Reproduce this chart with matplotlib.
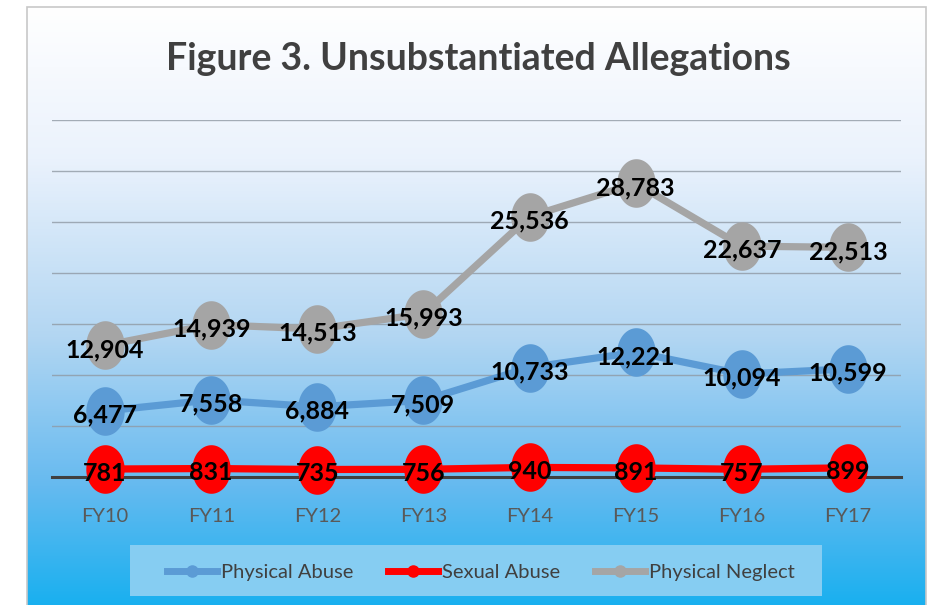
import numpy as np
import matplotlib
matplotlib.use('Agg')
from matplotlib import pyplot as plt
from matplotlib.path import Path
from matplotlib.patches import Rectangle
from matplotlib.colors import LinearSegmentedColormap
from matplotlib.lines import Line2D

plt.rcParams['font.family'] = ['Lato', 'DejaVu Sans']

years = ['FY10', 'FY11', 'FY12', 'FY13', 'FY14', 'FY15', 'FY16', 'FY17']
physical_abuse = [6477, 7558, 6884, 7509, 10733, 12221, 10094, 10599]
sexual_abuse = [781, 831, 735, 756, 940, 891, 757, 899]
physical_neglect = [12904, 14939, 14513, 15993, 25536, 28783, 22637, 22513]

series_names = ['Physical Abuse', 'Sexual Abuse', 'Physical Neglect']
series_colors = ['#5B9BD5', '#FF0000', '#A5A5A5']

W, H = 944, 605
fig = plt.figure(figsize=(W / 100, H / 100), dpi=100)
fig.patch.set_facecolor('white')

# gradient background of the chart frame
bg = fig.add_axes([27 / W, 0, 899 / W, 598 / H], zorder=-5)
grad_cmap = LinearSegmentedColormap.from_list('bg', [
    (0.0, (1.0, 1.0, 1.0)),
    (0.25, (0.92, 0.95, 0.99)),
    (0.55, (0.70, 0.84, 0.95)),
    (0.8, (0.40, 0.73, 0.94)),
    (1.0, (0.10, 0.69, 0.94))])
bg.imshow(np.linspace(0, 1, 256).reshape(-1, 1), aspect='auto', cmap=grad_cmap,
          extent=[0, 1, 0, 1])
bg.set_xlim(0, 1)
bg.set_ylim(0, 1)
bg.axis('off')
fig.patches.append(Rectangle((27 / W, -0.01), 899 / W, 598 / H + 0.01,
                             transform=fig.transFigure, fill=False,
                             edgecolor='#C8C8C8', lw=1.2, zorder=-4))

ax = fig.add_axes([52 / W, 1 - 477 / H, 849 / W, 357 / H])
ax.set_facecolor('none')
x = np.arange(len(years))

t = np.linspace(0, 2 * np.pi, 60)
ellipse = Path(np.column_stack([0.79 * np.cos(t), np.sin(t)]))

for vals, col in zip([physical_abuse, sexual_abuse, physical_neglect], series_colors):
    ax.plot(x, vals, color=col, lw=5.2, marker=ellipse, markersize=35,
            markeredgewidth=0, clip_on=False, zorder=3)
    for xi, v in zip(x, vals):
        ax.annotate(f'{v:,}', (xi, v), xytext=(0, -3), textcoords='offset points',
                    ha='center', va='center', fontsize=18, fontweight='bold',
                    color='black', zorder=5, annotation_clip=False)

ax.set_xlim(-0.5, len(years) - 0.5)
ax.set_ylim(0, 35000)
ax.set_yticks(np.arange(0, 35001, 5000))
ax.set_yticklabels([])
ax.grid(axis='y', color='#909AA4', lw=1, alpha=0.8)
ax.set_axisbelow(True)
ax.set_xticks(x)
ax.set_xticklabels(years, fontsize=14.5, color='#595959')
ax.tick_params(length=0, pad=22)
for s in ['left', 'right', 'top']:
    ax.spines[s].set_visible(False)
ax.spines['bottom'].set_color('#404040')
ax.spines['bottom'].set_linewidth(2.2)
ax.spines['bottom'].set_zorder(2)

fig.text(478 / W, 1 - 59 / H, 'Figure 3. Unsubstantiated Allegations', ha='center',
         va='center', fontsize=27, fontweight='bold', color='#404040')

# legend box
fig.patches.append(Rectangle((130 / W, 1 - 596 / H), 692 / W, 51 / H,
                             transform=fig.transFigure, facecolor='#86CDF2',
                             edgecolor='none', zorder=1))
handles = [Line2D([0], [0], color=c, lw=5, marker='o', markersize=8) for c in series_colors]
leg = fig.legend(handles, series_names, loc='center', bbox_to_anchor=(481 / W, 1 - 572 / H),
                 ncol=3, frameon=False, fontsize=14.5, handlelength=2.5, columnspacing=1.7,
                 handletextpad=0.2, labelcolor='#404040')
leg.set_zorder(2)

fig.savefig('out.png', dpi=100)
